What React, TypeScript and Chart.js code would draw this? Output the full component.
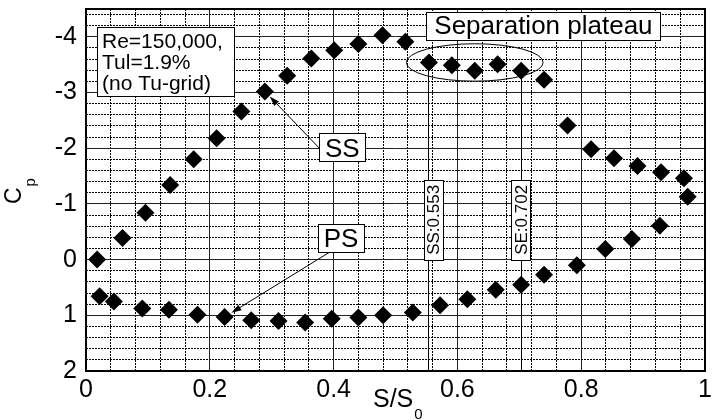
import React, { useEffect, useRef } from 'react';
import { Chart, registerables } from 'chart.js';

Chart.register(...registerables);

// ---- data ----
const ssX = [0.018, 0.059, 0.096, 0.136, 0.174, 0.211, 0.251, 0.289, 0.325, 0.364, 0.401, 0.44, 0.479, 0.516, 0.554, 0.591, 0.628, 0.665, 0.703, 0.74, 0.778, 0.816, 0.853, 0.891, 0.929, 0.966, 0.972];
const ssCp = [0.0, -0.39, -0.84, -1.34, -1.8, -2.18, -2.66, -3.02, -3.3, -3.61, -3.76, -3.87, -4.03, -3.91, -3.54, -3.49, -3.39, -3.51, -3.39, -3.23, -2.41, -1.98, -1.82, -1.68, -1.57, -1.46, -1.13];
const psX = [0.022, 0.045, 0.091, 0.134, 0.18, 0.224, 0.267, 0.311, 0.354, 0.397, 0.44, 0.48, 0.528, 0.572, 0.616, 0.662, 0.703, 0.74, 0.793, 0.839, 0.882, 0.927];
const psCp = [0.66, 0.75, 0.88, 0.9, 0.99, 1.03, 1.09, 1.1, 1.13, 1.06, 1.04, 1.0, 0.95, 0.82, 0.71, 0.54, 0.45, 0.27, 0.1, -0.19, -0.37, -0.61];

const xTickLabels = [0, 0.2, 0.4, 0.6, 0.8, 1];
const yTickLabels = [-4, -3, -2, -1, 0, 1, 2];
const xMinorStep = 0.04;
const yMinorStep = 0.2;
const X_MIN = 0;
const X_MAX = 1;
const Y_MIN = -4.5;
const Y_MAX = 2;

const sepStart = 0.553;
const sepEnd = 0.702;
const infoLines = ['Re=150,000,', 'Tul=1.9%', '(no Tu-grid)'];
const plateauText = 'Separation plateau';
const ssText = 'SS';
const psText = 'PS';

// ---- annotation anchors (data coordinates) ----
const infoBoxAt = { x: 0.0176, y: -4.18 };
const plateauLabelAt = { x: 0.739, y: -4.2 };
const plateauEllipse = { x: 0.628, y: -3.54, rx: 0.1105, ry: 0.336 };
const ssLabelAt = { x: 0.414, y: -2.02 };
const psLabelAt = { x: 0.412, y: -0.39 };
const sepLabelY = -0.714;
const ssArrowIndex = 7;
const psArrowIndex = 5;

const FONT = '"Liberation Sans", Arial, Helvetica, sans-serif';

const near = (a: number, b: number) => Math.abs(a - b) < 1e-6;
const isMajor = (v: number, labels: number[]) => labels.some((l) => near(l, v));
const labelFor = (v: number, labels: number[]) => {
  const l = labels.find((q) => near(q, v));
  return l === undefined ? '' : String(l);
};
const buildTicks = (min: number, max: number, step: number) => {
  const out: number[] = [];
  const k0 = Math.ceil(min / step - 1e-9);
  const k1 = Math.floor(max / step + 1e-9);
  for (let k = k0; k <= k1; k++) out.push(Math.round(k * step * 1e6) / 1e6);
  return out;
};
const xTicks = buildTicks(X_MIN, X_MAX, xMinorStep);
const yTicks = buildTicks(Y_MIN, Y_MAX, yMinorStep);

function drawBox(ctx: CanvasRenderingContext2D, cx: number, cy: number, w: number, h: number) {
  const l = Math.round(cx - w / 2) + 0.5;
  const t = Math.round(cy - h / 2) + 0.5;
  ctx.fillStyle = '#fff';
  ctx.fillRect(l, t, Math.round(w), Math.round(h));
  ctx.strokeStyle = '#000';
  ctx.lineWidth = 1;
  ctx.strokeRect(l, t, Math.round(w), Math.round(h));
}

function drawArrow(ctx: CanvasRenderingContext2D, x1: number, y1: number, x2: number, y2: number) {
  const a = Math.atan2(y2 - y1, x2 - x1);
  const len = 10;
  const hw = 3.2;
  ctx.strokeStyle = '#000';
  ctx.lineWidth = 1;
  ctx.beginPath();
  ctx.moveTo(x1, y1);
  ctx.lineTo(x2 - Math.cos(a) * len * 0.6, y2 - Math.sin(a) * len * 0.6);
  ctx.stroke();
  ctx.fillStyle = '#000';
  ctx.beginPath();
  ctx.moveTo(x2, y2);
  ctx.lineTo(x2 - Math.cos(a) * len - Math.sin(a) * hw, y2 - Math.sin(a) * len + Math.cos(a) * hw);
  ctx.lineTo(x2 - Math.cos(a) * len + Math.sin(a) * hw, y2 - Math.sin(a) * len - Math.cos(a) * hw);
  ctx.closePath();
  ctx.fill();
}

const annotations = {
  id: 'cpAnnotations',
  beforeDatasetsDraw(chart: any) {
    const { ctx, chartArea } = chart;
    const x = chart.scales.x;
    const y = chart.scales.y;
    ctx.save();
    ctx.strokeStyle = '#000';
    ctx.lineWidth = 1;
    // separation start / end lines, from the nearest SS point down to the axis
    [sepStart, sepEnd].forEach((sx) => {
      let best = 0;
      ssX.forEach((v, i) => {
        if (Math.abs(v - sx) < Math.abs(ssX[best] - sx)) best = i;
      });
      const px = Math.round(x.getPixelForValue(sx)) + 0.5;
      ctx.beginPath();
      ctx.moveTo(px, y.getPixelForValue(ssCp[best]));
      ctx.lineTo(px, chartArea.bottom);
      ctx.stroke();
    });
    // plateau ellipse
    const ecx = x.getPixelForValue(plateauEllipse.x);
    const ecy = y.getPixelForValue(plateauEllipse.y);
    const erx = Math.abs(x.getPixelForValue(plateauEllipse.x + plateauEllipse.rx) - ecx);
    const ery = Math.abs(y.getPixelForValue(plateauEllipse.y + plateauEllipse.ry) - ecy);
    ctx.beginPath();
    ctx.ellipse(ecx, ecy, erx, ery, 0, 0, Math.PI * 2);
    ctx.stroke();

    // SS arrow
    const ssCx = x.getPixelForValue(ssLabelAt.x);
    const ssCy = y.getPixelForValue(ssLabelAt.y);
    const sPx = x.getPixelForValue(ssX[ssArrowIndex]);
    const sPy = y.getPixelForValue(ssCp[ssArrowIndex]);
    const sx1 = ssCx - 23;
    const sy1 = ssCy + 1;
    const sd = Math.hypot(sx1 - sPx, sy1 - sPy);
    drawArrow(ctx, sx1, sy1, sPx + ((sx1 - sPx) / sd) * 7, sPy + ((sy1 - sPy) / sd) * 7);

    // PS arrow
    const psCx = x.getPixelForValue(psLabelAt.x);
    const psCy = y.getPixelForValue(psLabelAt.y);
    const pPx = x.getPixelForValue(psX[psArrowIndex]);
    const pPy = y.getPixelForValue(psCp[psArrowIndex]);
    const px1 = psCx - 11;
    const py1 = psCy + 14;
    const pd = Math.hypot(px1 - pPx, py1 - pPy);
    drawArrow(ctx, px1, py1, pPx + ((px1 - pPx) / pd) * 8, pPy + ((py1 - pPy) / pd) * 8);
    ctx.restore();
  },
  afterDatasetsDraw(chart: any) {
    const { ctx } = chart;
    const x = chart.scales.x;
    const y = chart.scales.y;
    ctx.save();

    // info box
    const il = Math.round(x.getPixelForValue(infoBoxAt.x));
    const it = Math.round(y.getPixelForValue(infoBoxAt.y));
    drawBox(ctx, il + 68.5, it + 34.5, 137, 69);
    ctx.fillStyle = '#000';
    ctx.font = `21px ${FONT}`;
    ctx.textAlign = 'left';
    ctx.textBaseline = 'alphabetic';
    infoLines.forEach((t, i) => ctx.fillText(t, il + 5, it + 21 + i * 20.8));

    // separation plateau label
    const pcx = x.getPixelForValue(plateauLabelAt.x);
    const pcy = y.getPixelForValue(plateauLabelAt.y);
    drawBox(ctx, pcx, pcy, 234, 28);
    ctx.fillStyle = '#000';
    ctx.font = `26px ${FONT}`;
    ctx.textAlign = 'center';
    ctx.fillText(plateauText, pcx, pcy + 8.5);

    // SS / PS labels
    [[ssLabelAt, ssText], [psLabelAt, psText]].forEach(([at, txt]: any) => {
      const cx = x.getPixelForValue(at.x);
      const cy = y.getPixelForValue(at.y);
      drawBox(ctx, cx, cy, 46, 28);
      ctx.fillStyle = '#000';
      ctx.font = `26px ${FONT}`;
      ctx.textAlign = 'center';
      ctx.fillText(txt, cx, cy + 9.5);
    });

    // vertical separation labels
    [[sepStart, `SS:${sepStart}`, 5], [sepEnd, `SE:${sepEnd}`, 0]].forEach(([sx, txt, dx]: any) => {
      const cx = x.getPixelForValue(sx) + dx;
      const cy = y.getPixelForValue(sepLabelY);
      drawBox(ctx, cx, cy, 19, 80);
      ctx.save();
      ctx.translate(cx, cy);
      ctx.rotate(-Math.PI / 2);
      ctx.fillStyle = '#000';
      ctx.font = `17px ${FONT}`;
      ctx.textAlign = 'center';
      ctx.textBaseline = 'alphabetic';
      ctx.fillText(txt, 0, 6);
      ctx.restore();
    });
    ctx.restore();
  },
  afterDraw(chart: any) {
    const { ctx, chartArea } = chart;
    ctx.save();
    // frame
    ctx.strokeStyle = '#000';
    ctx.lineWidth = 2;
    ctx.strokeRect(chartArea.left, chartArea.top, chartArea.right - chartArea.left, chartArea.bottom - chartArea.top);

    // axis titles with subscripts
    ctx.fillStyle = '#000';
    ctx.textBaseline = 'alphabetic';
    ctx.textAlign = 'left';
    // y title: C_p rotated
    ctx.save();
    ctx.translate(21, 204);
    ctx.rotate(-Math.PI / 2);
    ctx.font = `23px ${FONT}`;
    ctx.fillText('C', 0, 0);
    const cw = ctx.measureText('C').width;
    ctx.font = `15px ${FONT}`;
    ctx.fillText('p', cw + 1, 14);
    ctx.restore();
    // x title: S/S_0
    ctx.font = `25px ${FONT}`;
    const mainW = ctx.measureText('S/S').width;
    const startX = 373;
    ctx.fillText('S/S', startX, 407);
    ctx.font = `15px ${FONT}`;
    ctx.fillText('0', startX + mainW + 1, 419);
    ctx.restore();
  },
};

export default function App() {
  const ref = useRef<HTMLCanvasElement>(null);
  useEffect(() => {
    const canvas = ref.current;
    if (!canvas) return;
    const chart = new Chart(canvas, {
      type: 'scatter',
      data: {
        datasets: [
          {
            label: 'SS',
            data: ssX.map((v, i) => ({ x: v, y: ssCp[i] })),
            pointStyle: 'rectRot',
            pointRadius: 9,
            pointHoverRadius: 9,
            backgroundColor: '#000',
            borderColor: '#000',
            borderWidth: 0,
            showLine: false,
          },
          {
            label: 'PS',
            data: psX.map((v, i) => ({ x: v, y: psCp[i] })),
            pointStyle: 'rectRot',
            pointRadius: 9,
            pointHoverRadius: 9,
            backgroundColor: '#000',
            borderColor: '#000',
            borderWidth: 0,
            showLine: false,
          },
        ],
      },
      options: {
        animation: false,
        responsive: false,
        devicePixelRatio: 1,
        events: [],
        layout: { padding: { top: 7, right: 2, left: 0, bottom: 0 } },
        plugins: { legend: { display: false }, tooltip: { enabled: false }, title: { display: false } },
        scales: {
          x: {
            type: 'linear',
            min: X_MIN,
            max: X_MAX,
            afterBuildTicks: (s: any) => {
              s.ticks = xTicks.map((v) => ({ value: v }));
            },
            afterFit: (s: any) => {
              s.height = 49;
              s.paddingLeft = 0;
              s.paddingRight = 0;
              s.paddingTop = 0;
              s.paddingBottom = 0;
            },
            ticks: {
              autoSkip: false,
              maxRotation: 0,
              minRotation: 0,
              padding: 4,
              color: '#000',
              font: { family: FONT, size: 25 },
              callback: (v: any) => labelFor(Number(v), xTickLabels),
            },
            grid: {
              drawTicks: false,
              lineWidth: 1,
              color: (c: any) => (c.tick && isMajor(c.tick.value, xTickLabels) ? '#222' : '#000'),
            },
            border: {
              display: false,
              dash: (c: any) => (c.tick && !isMajor(c.tick.value, xTickLabels) ? [2, 1] : []),
            },
          },
          y: {
            type: 'linear',
            min: Y_MIN,
            max: Y_MAX,
            reverse: true,
            afterBuildTicks: (s: any) => {
              s.ticks = yTicks.map((v) => ({ value: v }));
            },
            afterFit: (s: any) => {
              s.width = 86;
              s.paddingLeft = 0;
              s.paddingRight = 0;
              s.paddingTop = 0;
              s.paddingBottom = 0;
            },
            ticks: {
              autoSkip: false,
              padding: 9,
              color: '#000',
              font: { family: FONT, size: 25 },
              callback: (v: any) => labelFor(Number(v), yTickLabels),
            },
            grid: {
              drawTicks: false,
              lineWidth: 1,
              color: (c: any) => (c.tick && isMajor(c.tick.value, yTickLabels) ? '#222' : '#000'),
            },
            border: {
              display: false,
              dash: (c: any) => (c.tick && !isMajor(c.tick.value, yTickLabels) ? [2, 1] : []),
            },
          },
        },
      } as any,
      plugins: [annotations as any],
    });
    return () => chart.destroy();
  }, []);

  return (
    <div style={{ position: 'fixed', left: 0, top: 0, width: 714, height: 420, background: '#fff' }}>
      <canvas ref={ref} width={714} height={420} style={{ display: 'block', width: 714, height: 420 }} />
    </div>
  );
}
